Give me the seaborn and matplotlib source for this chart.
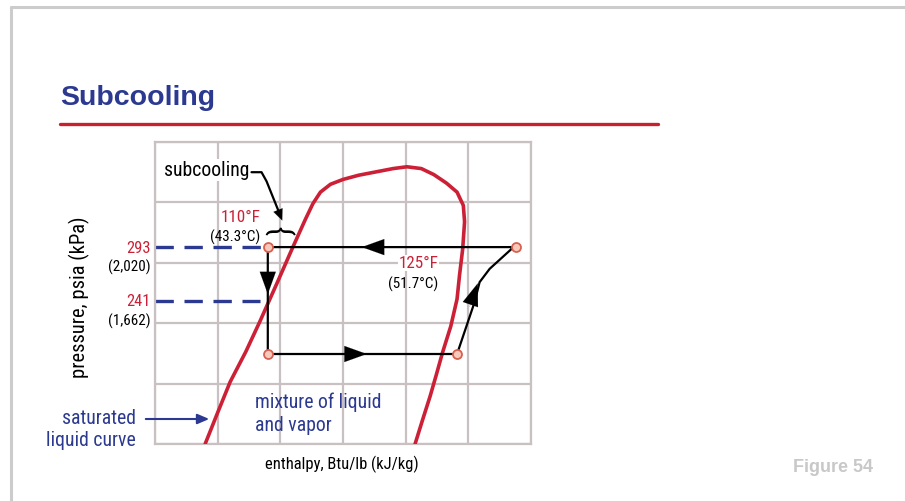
import numpy as np
import pandas as pd
import matplotlib
matplotlib.use("Agg")
import matplotlib.pyplot as plt
import seaborn as sns
from matplotlib import font_manager as fm

# ---------------- data (grid units: enthalpy 0..6, pressure 0..5) ----------------
dome_h = [0.80, 1.00, 1.20, 1.45, 1.67, 1.95, 2.20, 2.40, 2.52, 2.64, 2.80, 3.00, 3.25,
          3.55, 3.80, 4.02, 4.25, 4.45, 4.65, 4.82, 4.92, 4.94, 4.91, 4.86, 4.82, 4.72,
          4.59, 4.49, 4.39, 4.27, 4.15]
dome_p = [0.00, 0.52, 1.03, 1.53, 2.02, 2.67, 3.26, 3.72, 3.98, 4.17, 4.30, 4.38, 4.45,
          4.51, 4.56, 4.59, 4.56, 4.46, 4.32, 4.17, 3.95, 3.68, 3.23, 2.80, 2.40, 1.95,
          1.52, 1.15, 0.79, 0.40, 0.00]

cycle_h = [1.80, 1.80, 4.82, 5.10, 5.18, 5.34, 5.69, 5.76, 1.80]
cycle_p = [3.26, 1.49, 1.49, 2.35, 2.68, 2.90, 3.23, 3.26, 3.26]

state_h = [1.80, 1.80, 4.82, 5.76]
state_p = [3.26, 1.49, 1.49, 3.26]

press_levels = [3.26, 2.37]
press_psia = ["293", "241"]
press_kpa = ["(2,020)", "(1,662)"]
dash_end = [1.80, 1.67]

W, H = 905, 502
BLUE = "#2b3990"
RED = "#cc2036"
GRIDC = "#c9c1c1"

sns.set_style("white")

# pick a condensed font if one is installed
names = {f.name for f in fm.fontManager.ttflist}
stretch = "normal"
scale = 0.84
narrow = "Liberation Sans"
for cand in ["Liberation Sans Narrow", "Arial Narrow", "Roboto Condensed",
             "Open Sans Condensed", "Noto Sans Condensed"]:
    if cand in names:
        narrow, scale = cand, 0.95
        break
else:
    cond = [f for f in fm.fontManager.ttflist
            if "condensed" in str(f.stretch).lower() or "Narrow" in f.name
            or "Condensed" in f.name]
    if cond:
        f0 = cond[0]
        narrow = f0.name
        stretch = f0.stretch
        scale = 0.87
NF = [narrow, "DejaVu Sans"]
BF = ["Liberation Sans", "DejaVu Sans"]
plt.rcParams["font.family"] = NF
plt.rcParams["font.stretch"] = stretch

def fs(v):
    return v * scale

fig = plt.figure(figsize=(W / 100, H / 100), dpi=100)
fig.patch.set_facecolor("white")

def fx(x):
    return x / W

def fy(y):
    return 1 - y / H

# slide frame (top and left edges)
fig.add_artist(plt.Line2D([fx(11), fx(905)], [fy(8), fy(8)], color="#cccccc", lw=2.2))
fig.add_artist(plt.Line2D([fx(11), fx(11)], [fy(8), fy(502)], color="#cccccc", lw=2.2))

# title and red rule
fig.text(fx(60), fy(98), "Subcooling", family=BF, weight="bold", fontsize=20.5,
         color=BLUE, ha="left", va="center", stretch="normal")
fig.add_artist(plt.Line2D([fx(60), fx(658)], [fy(125), fy(125)], color="#c8202f", lw=2.4))

# Figure number
fig.text(fx(873), fy(468), "Figure 54", family=BF, weight="bold", fontsize=13,
         color="#c8c8c8", ha="right", va="center", stretch="normal")

# main chart axes
ax = fig.add_axes([fx(155), fy(445), (531 - 155) / W, (445 - 143) / H])
ax.set_xlim(0, 6)
ax.set_ylim(0, 5)
ax.set_xticks(range(7))
ax.set_yticks(range(6))
ax.grid(True, color=GRIDC, lw=1.6)
ax.tick_params(length=0, labelbottom=False, labelleft=False)
for s in ax.spines.values():
    s.set_color(GRIDC)
    s.set_linewidth(1.6)
ax.set_axisbelow(True)

# saturation dome
dome = pd.DataFrame({"h": dome_h, "p": dome_p})
sns.lineplot(data=dome, x="h", y="p", sort=False, estimator=None, ax=ax,
             color=RED, lw=2.6, zorder=3)

# pressure dashed lines
for lev, xe in zip(press_levels, dash_end):
    ln = sns.lineplot(x=[0, xe], y=[lev, lev], ax=ax, color=BLUE, lw=2.4,
                      estimator=None, sort=False, zorder=2).lines[-1]
    ln.set_dashes([5.5, 3.2])

# refrigeration cycle
cyc = pd.DataFrame({"h": cycle_h, "p": cycle_p})
sns.lineplot(data=cyc, x="h", y="p", sort=False, estimator=None, ax=ax,
             color="black", lw=1.6, zorder=4)

# direction arrows
arrow_kw = dict(arrowstyle="-|>,head_length=1.0,head_width=0.36", color="black",
                mutation_scale=16, shrinkA=0, shrinkB=0, lw=0.1)
for (x0, y0), (x1, y1) in [((3.70, 3.26), (3.30, 3.26)),
                           ((1.80, 2.86), (1.80, 2.48)),
                           ((3.00, 1.49), (3.38, 1.49)),
                           ((5.02, 2.27), (5.15, 2.66))]:
    ax.annotate("", xy=(x1, y1), xytext=(x0, y0), arrowprops=arrow_kw, zorder=5)

# state points
pts = pd.DataFrame({"h": state_h, "p": state_p})
sns.scatterplot(data=pts, x="h", y="p", ax=ax, s=42, color="#f6c9bd",
                edgecolor="#d9604f", linewidth=1.3, zorder=6)
ax.set_xlabel("")
ax.set_ylabel("")

# subcooling label + pointer
ax.text(1.50, 4.54, "subcooling", fontsize=fs(15), color="black", ha="right", va="center",
        bbox=dict(facecolor="white", edgecolor="none", pad=1), zorder=7)
ax.plot([1.54, 1.70, 1.78, 1.97], [4.50, 4.50, 4.35, 3.86], color="black", lw=1.6, zorder=7)
ax.annotate("", xy=(2.03, 3.70), xytext=(1.96, 3.88),
            arrowprops=dict(arrowstyle="-|>,head_length=0.8,head_width=0.35", color="black",
                            mutation_scale=10, shrinkA=0, shrinkB=0, lw=0.1), zorder=7)
ax.text(2.02, 3.55, "}", rotation=90, fontsize=22, color="black", ha="center",
        va="center", zorder=7)

ax.text(1.68, 3.77, "110°F", fontsize=fs(13), color=RED, ha="right", va="center", zorder=7)
ax.text(1.68, 3.44, "(43.3°C)", fontsize=fs(11.5), color="black", ha="right", va="center", zorder=7)

ax.text(4.20, 3.00, "125°F", fontsize=fs(13), color=RED, ha="center", va="center", zorder=7,
        bbox=dict(facecolor="white", edgecolor="none", pad=0.5))
ax.text(4.12, 2.66, "(51.7°C)", fontsize=fs(11.5), color="black", ha="center", va="center", zorder=7)

ax.text(1.60, 0.71, "mixture of liquid", fontsize=fs(15), color=BLUE, ha="left", va="center", zorder=7)
ax.text(1.60, 0.33, "and vapor", fontsize=fs(15), color=BLUE, ha="left", va="center", zorder=7)

# pressure labels outside axes
for lev, psia, kpa in zip(press_levels, press_psia, press_kpa):
    ypx = 445 - lev * 60.4
    fig.text(fx(151), fy(ypx), psia, fontsize=fs(12.5), color=RED, ha="right", va="center")
    fig.text(fx(151), fy(ypx + 19), kpa, fontsize=fs(11.5), color="black", ha="right", va="center")

# saturated liquid curve label and arrow
fig.text(fx(136), fy(418), "saturated", fontsize=fs(15), color=BLUE, ha="right", va="center")
fig.text(fx(136), fy(441), "liquid curve", fontsize=fs(15), color=BLUE, ha="right", va="center")
fig.add_artist(matplotlib.patches.FancyArrowPatch(
    (fx(143), fy(420)), (fx(212), fy(420)), transform=fig.transFigure,
    arrowstyle="-|>,head_length=0.7,head_width=0.3", mutation_scale=10, color=BLUE, lw=1.5))

# axis titles
fig.text(fx(79), fy(297), "pressure, psia (kPa)", fontsize=fs(15.5), color="black",
         rotation=90, ha="center", va="center")
fig.text(fx(342), fy(464), "enthalpy, Btu/lb (kJ/kg)", fontsize=fs(12.5), color="black",
         ha="center", va="center")

fig.savefig("out.png", dpi=100)
